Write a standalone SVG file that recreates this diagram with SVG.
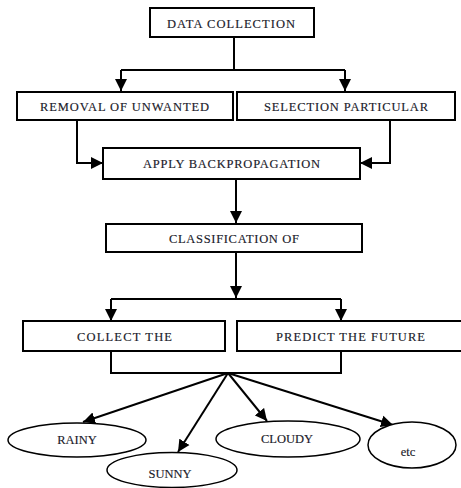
<svg xmlns="http://www.w3.org/2000/svg" width="461" height="488" viewBox="0 0 461 488">
<style>
.box{fill:#fff;stroke:#000;stroke-width:2}
.ell{fill:#fff;stroke:#000;stroke-width:1.5}
.t{font-family:'Liberation Serif','Times New Roman',Times,serif;font-size:12.5px;fill:#1a1a2a;text-anchor:middle;stroke:#1a1a2a;stroke-width:0.15}
.c{fill:none;stroke:#000;stroke-width:2}
</style>
<defs>
<marker id="ah" markerUnits="userSpaceOnUse" markerWidth="13" markerHeight="13" viewBox="0 0 13 13" refX="12" refY="6.5" orient="auto">
<path d="M0,0.5 L12,6.5 L0,12.5 Z" fill="#000"/>
</marker>
</defs>
<rect width="461" height="488" fill="#fff"/>
<g id="connectors">
<path class="c" d="M234,37 V70 M121,70 H345"/>
<path class="c" d="M121,70 V91" marker-end="url(#ah)"/>
<path class="c" d="M345,70 V91" marker-end="url(#ah)"/>
<path class="c" d="M77,120 V163 H103" marker-end="url(#ah)"/>
<path class="c" d="M390,120 V163 H360" marker-end="url(#ah)"/>
<path class="c" d="M236,179 V223" marker-end="url(#ah)"/>
<path class="c" d="M236,252 V298" marker-end="url(#ah)"/>
<path class="c" d="M111,299 H341"/>
<path class="c" d="M111,299 V321" marker-end="url(#ah)"/>
<path class="c" d="M341,299 V321" marker-end="url(#ah)"/>
<path class="c" d="M111,351 V373 H341 V351"/>
<path class="c" d="M228,373 L83,422" marker-end="url(#ah)"/>
<path class="c" d="M228,373 L178,452" marker-end="url(#ah)"/>
<path class="c" d="M228,373 L267,421" marker-end="url(#ah)"/>
<path class="c" d="M228,373 L393,425" marker-end="url(#ah)"/>
</g>
<g id="data-collection">
<rect class="box" x="150" y="8" width="164" height="29"/>
<text class="t" x="231" y="28" textLength="128">DATA  COLLECTION</text>
</g>
<g id="removal">
<rect class="box" x="17" y="92" width="216" height="28"/>
<text class="t" x="124.5" y="111" textLength="169">REMOVAL OF UNWANTED</text>
</g>
<g id="selection">
<rect class="box" x="237" y="92" width="218" height="28"/>
<text class="t" x="346" y="111" textLength="164">SELECTION  PARTICULAR</text>
</g>
<g id="backprop">
<rect class="box" x="103" y="148" width="257" height="31"/>
<text class="t" x="231.5" y="168" textLength="177">APPLY BACKPROPAGATION</text>
</g>
<g id="classification">
<rect class="box" x="106" y="224" width="256" height="28"/>
<text class="t" x="234" y="243" textLength="130">CLASSIFICATION OF</text>
</g>
<g id="collect">
<rect class="box" x="23" y="321" width="202" height="30"/>
<text class="t" x="124.5" y="341" textLength="95">COLLECT  THE</text>
</g>
<g id="predict">
<rect class="box" x="237" y="321" width="230" height="30"/>
<text class="t" x="350.5" y="341" textLength="149">PREDICT  THE  FUTURE</text>
</g>
<g id="rainy">
<ellipse class="ell" cx="77" cy="440" rx="69" ry="17"/>
<text class="t" x="77" y="444">RAINY</text>
</g>
<g id="sunny">
<ellipse class="ell" cx="172" cy="470" rx="65" ry="17.5"/>
<text class="t" x="170" y="478">SUNNY</text>
</g>
<g id="cloudy">
<ellipse class="ell" cx="288" cy="439" rx="72" ry="18"/>
<text class="t" x="287" y="443">CLOUDY</text>
</g>
<g id="etc">
<ellipse class="ell" cx="412" cy="445" rx="44" ry="23"/>
<text class="t" x="408" y="456">etc</text>
</g>
</svg>
